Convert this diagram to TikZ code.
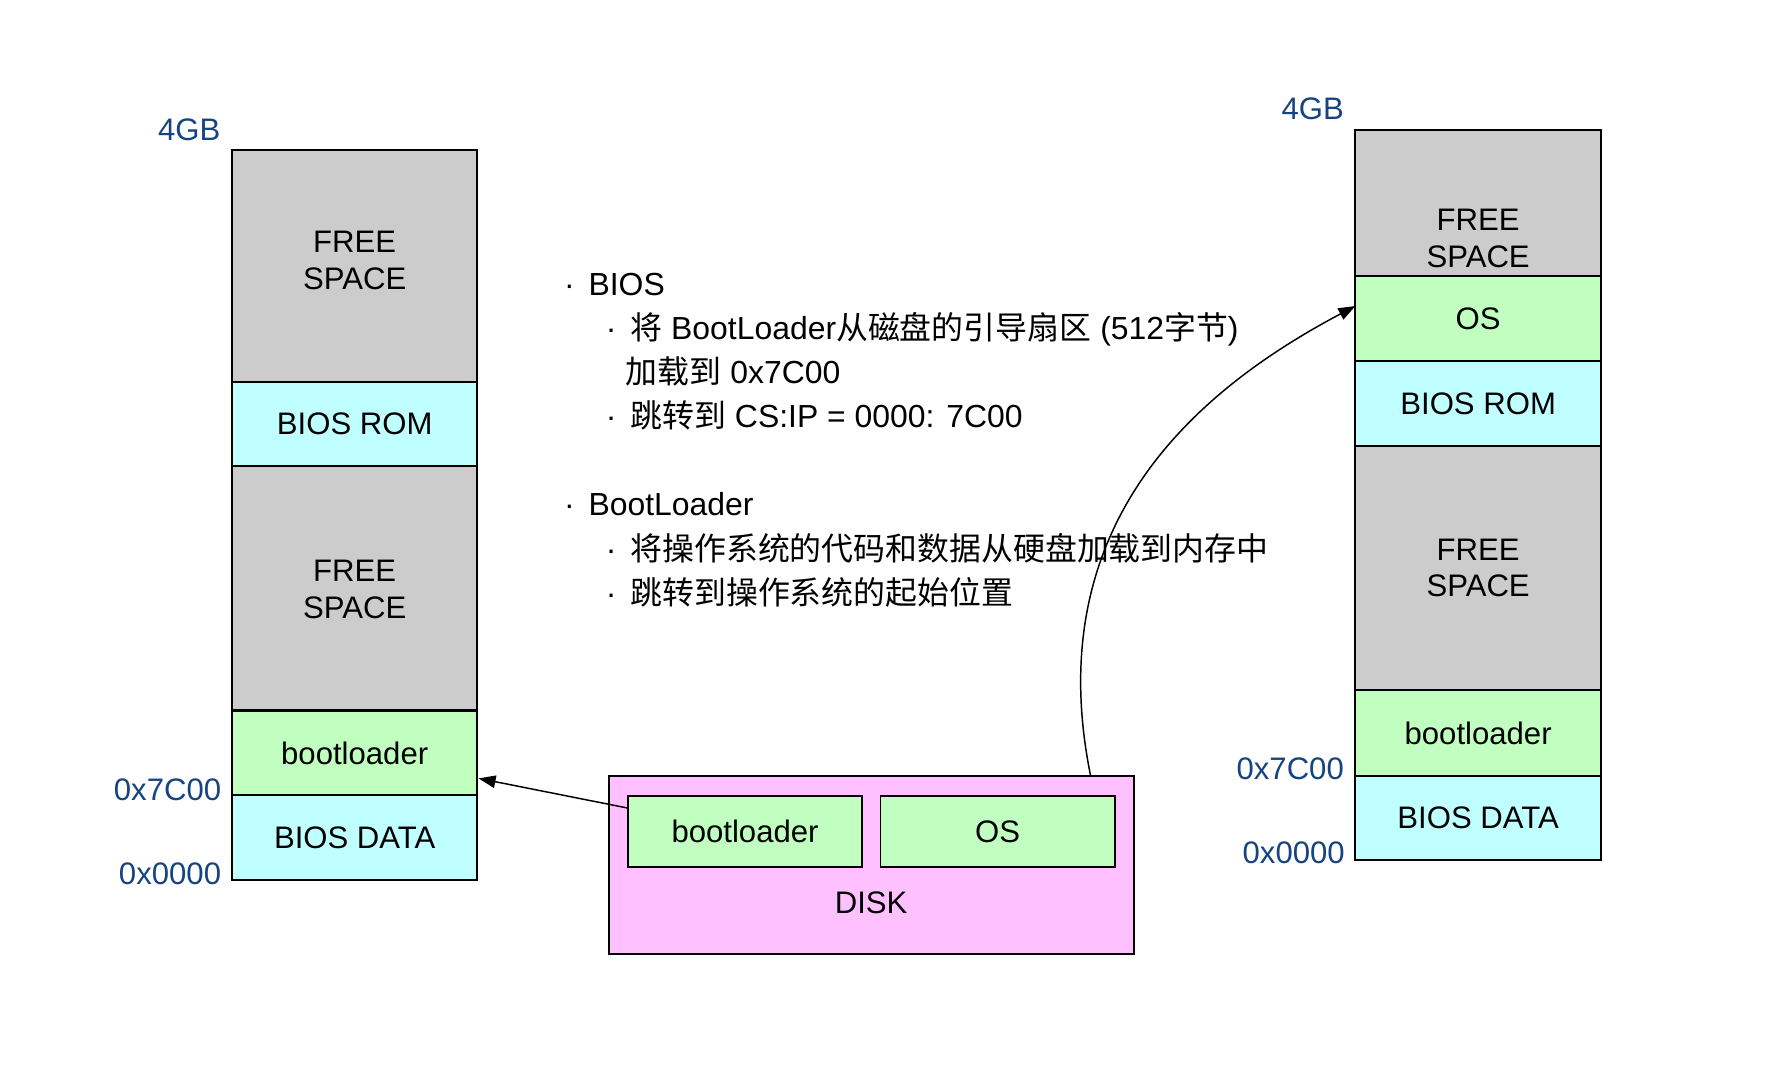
\documentclass[tikz,border=0pt]{standalone}
\usepackage{fontspec}
\setmainfont{Liberation Sans}
\newfontfamily\cjkfont{Noto Sans CJK SC}
\usetikzlibrary{arrows.meta,calc}
\definecolor{memgray}{HTML}{CCCCCC}
\definecolor{memcyan}{HTML}{BFFFFF}
\definecolor{memgreen}{HTML}{C0FFC0}
\definecolor{diskpink}{HTML}{FFC0FF}
\definecolor{addrblue}{RGB}{22,68,128}
\newcommand\zh[1]{{\cjkfont #1}}
\newcommand\bul{\makebox[0pt][r]{\textperiodcentered\hspace{12.3pt}}}
\begin{document}
\begin{tikzpicture}[x=1pt,y=-1pt,
  seg/.style={draw=black, line width=1.8pt, minimum width=217pt, inner sep=0pt, outer sep=0pt,
              font=\fontsize{27.5}{32.5}\selectfont},
  inbox/.style={draw=black, line width=1.5pt, minimum width=207pt, minimum height=62.5pt,
              inner sep=0pt, outer sep=0pt, fill=memgreen, font=\fontsize{27.5}{32.5}\selectfont},
  segtext/.style={inner sep=0pt, align=center, font=\fontsize{27.5}{32.5}\selectfont},
  addr/.style={text=addrblue, inner sep=0pt, anchor=base east, font=\fontsize{27.5}{32.5}\selectfont},
  txt/.style={inner sep=0pt, anchor=base west, font=\fontsize{28.2}{39}\selectfont},
  conn/.style={draw=black, line width=1.3pt, -{Triangle[length=15pt,width=11pt]}}
]
\useasboundingbox (0,0) rectangle (1568,944);

% ---------- left memory map ----------
\node[seg, fill=memgray,  minimum height=205pt] (lf1)   at (313.5,235.5) {};
\node[seg, fill=memcyan,  minimum height=74pt]  (lrom)  at (313.5,375) {BIOS ROM};
\node[seg, fill=memgray,  minimum height=216pt] (lf2)   at (313.5,520) {};
\node[seg, fill=memgreen, minimum height=75pt]  (lbl)   at (313.5,665.5) {bootloader};
\node[seg, fill=memcyan,  minimum height=75pt]  (ldata) at (313.5,740.5) {BIOS DATA};
\node[segtext] (lf1t) at (313.5,230) {FREE\\SPACE};
\node[segtext] (lf2t) at (313.5,521) {FREE\\SPACE};

\node[addr] (l4gb) at (195,124) {4GB};
\node[addr] (l7c)  at (195.7,707.6) {0x7C00};
\node[addr] (l00)  at (195.6,781.7) {0x0000};

% ---------- right memory map ----------
\node[seg, fill=memgray,  minimum height=129.5pt] (rf1)   at (1306.5,179.25) {};
\node[seg, fill=memgreen, minimum height=75pt]    (ros)   at (1306.5,281.5) {OS};
\node[seg, fill=memcyan,  minimum height=75pt]    (rrom)  at (1306.5,356.5) {BIOS ROM};
\node[seg, fill=memgray,  minimum height=216pt]   (rf2)   at (1306.5,502) {};
\node[seg, fill=memgreen, minimum height=76pt]    (rbl)   at (1306.5,648) {bootloader};
\node[seg, fill=memcyan,  minimum height=74pt]    (rdata) at (1306.5,723) {BIOS DATA};
\node[segtext] (rf1t) at (1306.5,211) {FREE\\SPACE};
\node[segtext] (rf2t) at (1306.5,502) {FREE\\SPACE};

\node[addr] (r4gb) at (1188,105.5) {4GB};
\node[addr] (r7c)  at (1188,688.8) {0x7C00};
\node[addr] (r00)  at (1188.8,762.8) {0x0000};

% ---------- disk ----------
\node[draw=black, line width=1.8pt, fill=diskpink, minimum width=464pt, minimum height=157pt,
      inner sep=0pt, outer sep=0pt] (disk) at (770,764.5) {};
\node[inbox] (dbl) at (658.5,735) {bootloader};
\node[inbox] (dos) at (881.75,735) {OS};
\node[inner sep=0pt, anchor=base, font=\fontsize{27.5}{32.5}\selectfont] (disklbl) at (770,807) {DISK};

% ---------- text ----------
\node[txt] (t1) at (520,261) {\bul BIOS};
\node[txt] (t2) at (557,300) {\bul\zh{将} BootLoader\zh{从磁盘的引导扇区} (512\zh{字节})};
\node[txt] (t3) at (553,339) {\zh{加载到} 0x7C00};
\node[txt] (t4) at (557,378) {\bul\zh{跳转到} CS:IP = 0000: 7C00};
\node[txt] (t5) at (520,456) {\bul BootLoader};
\node[txt] (t6) at (557,495) {\bul\zh{将操作系统的代码和数据从硬盘加载到内存中}};
\node[txt] (t7) at (557,534) {\bul\zh{跳转到操作系统的起始位置}};

% ---------- connectors ----------
\draw[conn] ($(dbl.north west)+(0,10.5)$) -- ($(lbl.south east)+(1,-15)$);
\draw[conn] ($(disk.north west)+(426,0)$) .. controls (920,470) and (1047.5,350) .. ($(ros.west)+(0,-11)$);
\end{tikzpicture}
\end{document}
